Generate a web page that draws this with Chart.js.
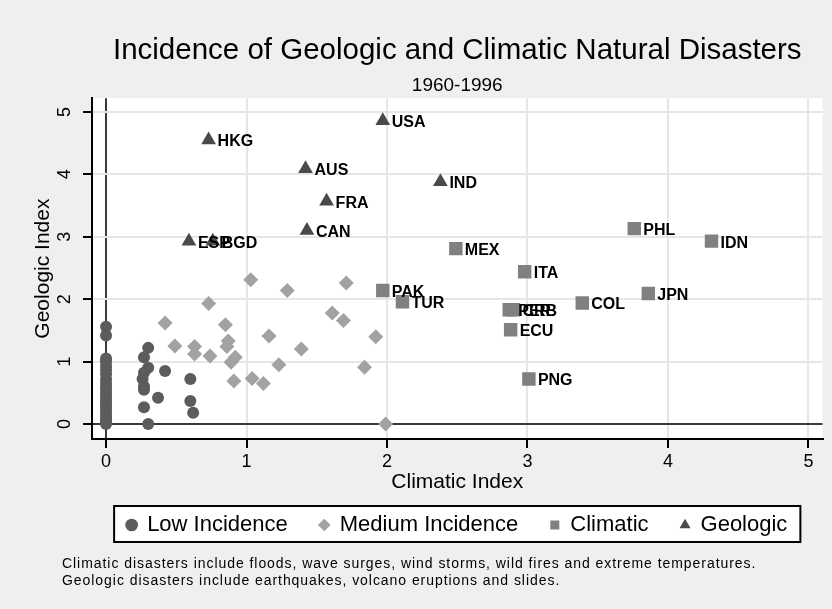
<!DOCTYPE html>
<html><head><meta charset="utf-8">
<script src="https://cdn.jsdelivr.net/npm/chart.js@4"></script>
<style>
html,body{margin:0;padding:0;background:#efefef;}
#wrap{position:relative;width:832px;height:609px;}
#note{position:absolute;left:62px;top:555px;font:14px "Liberation Sans",Arial,sans-serif;letter-spacing:0.95px;line-height:17px;color:#000;white-space:nowrap;}
</style></head><body>
<div id="wrap"><canvas id="c" width="832" height="609"></canvas>
<div id="note">Climatic disasters include floods, wave surges, wind storms, wild fires and extreme temperatures.<br>Geologic disasters include earthquakes, volcano eruptions and slides.</div></div>
<script>
// ---- data ----
const seriesNames = ["Low Incidence", "Medium Incidence", "Climatic", "Geologic"];
const lowX = [0,0,0,0,0,0,0,0,0,0,0,0,0,0,0,0,0,0,0,0,0,0,
  0.30,0.27,0.30,0.27,0.26,0.27,0.27,0.42,0.37,0.27,0.30,0.60,0.60,0.62];
const lowY = [0,0.04,0.08,0.13,0.18,0.23,0.28,0.33,0.38,0.44,0.49,0.55,0.60,0.66,0.72,0.80,0.87,0.93,1.00,1.05,1.42,1.56,
  1.22,1.07,0.90,0.82,0.72,0.60,0.55,0.85,0.42,0.27,0.00,0.72,0.37,0.18];
const medX = [0.42,0.73,1.03,1.29,1.71,0.85,1.61,1.69,1.16,1.92,0.49,0.63,0.87,0.86,0.63,0.74,0.92,0.89,1.39,1.23,1.84,0.91,1.04,1.12,1.99];
const medY = [1.62,1.93,2.31,2.14,2.26,1.59,1.78,1.66,1.41,1.40,1.25,1.24,1.33,1.24,1.12,1.09,1.07,0.99,1.20,0.95,0.91,0.69,0.73,0.65,0.00];
const climLabels = ["PHL","IDN","JPN","COL","MEX","ITA","PAK","TUR","PER","CRB","ECU","PNG"];
const climX = [3.76,4.31,3.86,3.39,2.49,2.98,1.97,2.11,2.87,2.90,2.88,3.01];
const climY = [3.13,2.93,2.09,1.94,2.81,2.44,2.14,1.96,1.83,1.83,1.51,0.72];
const geoLabels = ["USA","HKG","AUS","FRA","CAN","IND","ESP","BGD"];
const geoX = [1.97,0.73,1.42,1.57,1.43,2.38,0.59,0.76];
const geoY = [4.86,4.55,4.09,3.57,3.10,3.88,2.93,2.93];
const xTicks = [0,1,2,3,4,5];
const yTicks = [0,1,2,3,4,5];
const pointLabels = [null, null, climLabels, geoLabels];

const FONT = '"Liberation Sans", Arial, sans-serif';
const pts = (xs, ys) => xs.map((x, i) => ({x: x, y: ys[i]}));

function legendRect(chart) {
  const lg = chart.legend;
  if (!lg || !lg.legendHitBoxes || !lg.legendHitBoxes.length) return null;
  const hb = lg.legendHitBoxes;
  const l = Math.min(...hb.map(h => h.left)), r = Math.max(...hb.map(h => h.left + h.width));
  const t = Math.min(...hb.map(h => h.top)), b = Math.max(...hb.map(h => h.top + h.height));
  return {x: l - 13, y: t - 8, w: (r - l) + 26, h: (b - t) + 14};
}

const bgPlugin = {
  id: 'bg',
  beforeDraw(chart) {
    const {ctx, chartArea: a} = chart;
    ctx.save();
    ctx.fillStyle = '#efefef';
    ctx.fillRect(0, 0, chart.width, chart.height);
    ctx.fillStyle = '#ffffff';
    ctx.fillRect(a.left, a.top, a.right - a.left, a.bottom - a.top);
    const r = legendRect(chart);
    if (r) {
      ctx.fillRect(r.x, r.y, r.w, r.h);
      ctx.strokeStyle = '#000';
      ctx.lineWidth = 2;
      ctx.strokeRect(r.x, r.y, r.w, r.h);
    }
    ctx.restore();
  }
};
const labelPlugin = {
  id: 'ptlabels',
  afterDatasetsDraw(chart) {
    const ctx = chart.ctx;
    ctx.save();
    ctx.font = 'bold 16px ' + FONT;
    ctx.fillStyle = '#000';
    ctx.textAlign = 'left';
    ctx.textBaseline = 'middle';
    pointLabels.forEach((labs, di) => {
      if (!labs) return;
      const meta = chart.getDatasetMeta(di);
      meta.data.forEach((el, i) => {
        ctx.fillText(labs[i], el.x + 9, el.y + 2);
      });
    });
    ctx.restore();
  }
};

const gridColor = c => (c.tick && c.tick.value === 0) ? '#3a3a3a' : '#e6e6e6';

new Chart(document.getElementById('c'), {
  type: 'scatter',
  data: {
    datasets: [
      {label: seriesNames[0], data: pts(lowX, lowY), pointStyle: 'circle', pointRadius: 6, backgroundColor: '#5c5c5c', borderWidth: 0, order: 4},
      {label: seriesNames[1], data: pts(medX, medY), pointStyle: 'rectRot', pointRadius: 7.5, backgroundColor: '#a2a2a2', borderWidth: 0, order: 3},
      {label: seriesNames[2], data: pts(climX, climY), pointStyle: 'rect', pointRadius: 9.5, backgroundColor: '#808080', borderWidth: 0, order: 2},
      {label: seriesNames[3], data: pts(geoX, geoY), pointStyle: 'triangle', pointRadius: 8.5, backgroundColor: '#4a4a4a', borderWidth: 0, order: 1}
    ]
  },
  options: {
    responsive: false,
    animation: false,
    devicePixelRatio: 1,
    layout: {padding: {left: 0, right: 9, top: 0, bottom: 63}},
    plugins: {
      tooltip: {enabled: false},
      title: {display: true, text: 'Incidence of Geologic and Climatic Natural Disasters', fullSize: false,
        font: {family: FONT, size: 29.5, weight: 'normal'}, color: '#000', padding: {top: 33.5, bottom: 0}},
      subtitle: {display: true, text: '1960-1996', fullSize: false,
        font: {family: FONT, size: 19, weight: 'normal'}, color: '#000', padding: {top: 5.5, bottom: 1}},
      legend: {position: 'bottom', fullSize: false,
        labels: {usePointStyle: true, boxWidth: 9, boxHeight: 9, padding: 32, color: '#000',
          font: {family: FONT, size: 22},
          sort: (a, b) => a.datasetIndex - b.datasetIndex}}
    },
    scales: {
      x: {type: 'linear', min: -0.1, max: 5.1,
        afterBuildTicks: s => { s.ticks = xTicks.map(v => ({value: v})); },
        afterFit: s => { s.height = 43; },
        ticks: {color: '#000', font: {family: FONT, size: 18}, padding: 3},
        grid: {color: gridColor, lineWidth: 2, tickLength: 9, tickColor: '#000', tickWidth: 2},
        border: {color: '#000', width: 2},
        title: {display: true, text: 'Climatic Index', color: '#000', font: {family: FONT, size: 21}, padding: {top: 0, bottom: -13}}},
      y: {type: 'linear', min: -0.24, max: 5.22,
        afterBuildTicks: s => { s.ticks = yTicks.map(v => ({value: v})); },
        afterFit: s => { s.width = 92; },
        ticks: {color: '#000', font: {family: FONT, size: 18}, padding: 13, minRotation: 90, maxRotation: 90, crossAlign: 'center'},
        grid: {color: gridColor, lineWidth: 2, tickLength: 9, tickColor: '#000', tickWidth: 2},
        border: {color: '#000', width: 2},
        title: {display: true, text: 'Geologic Index', color: '#000', font: {family: FONT, size: 21}, padding: {top: 31, bottom: 0}}}
    }
  },
  plugins: [bgPlugin, labelPlugin]
});
</script>
</body></html>
